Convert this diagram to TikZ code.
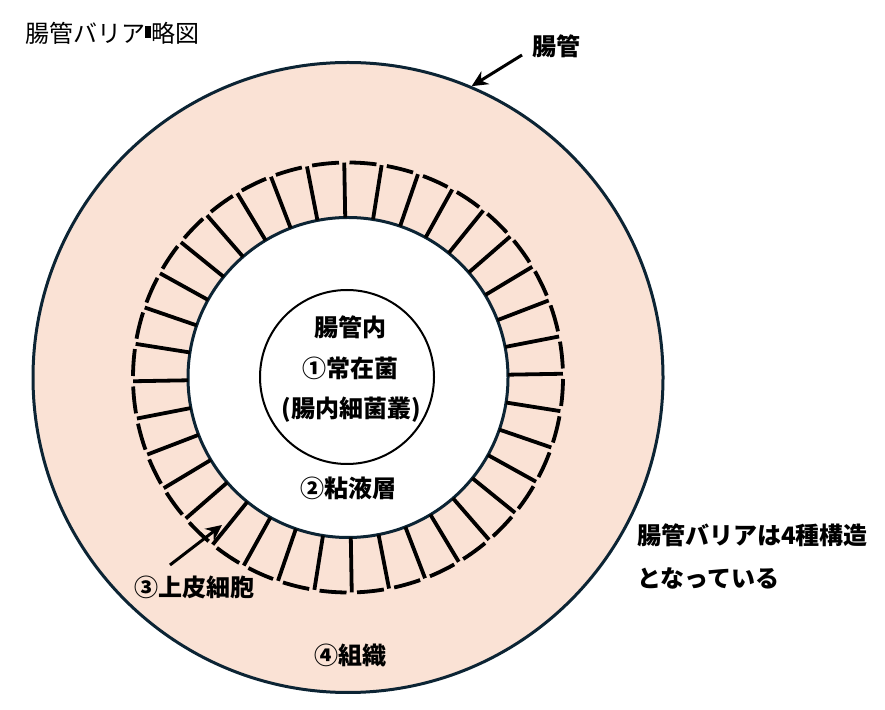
\documentclass[tikz,border=0pt]{standalone}
\usepackage{fontspec}
\setmainfont{Noto Sans CJK JP}
\usepackage{tikz}
\usetikzlibrary{arrows.meta}
\definecolor{gutpeach}{RGB}{250,226,213}
\definecolor{gutnavy}{RGB}{12,36,52}
\tikzset{
  font={\fontsize{24pt}{28pt}\selectfont}}

\begin{document}
\begin{tikzpicture}[x=1pt,y=1pt]
\tikzstyle{every node}+=[inner sep=0pt]
\tikzstyle{ring}=[circle, draw=gutnavy, line width=3pt]
\tikzstyle{lbl}=[font=\fontsize{24pt}{28pt}\selectfont\bfseries]
\tikzstyle{pointer}=[-{Stealth[length=16pt,width=15pt]}, line width=3pt, black]
\useasboundingbox (0,0) rectangle (885,709);
\coordinate (c) at (348,331.5);
\node [ring, fill=gutpeach, minimum size=630] (gut) at (c) {};
\node [ring, fill=white, minimum size=320] (lumen) at (c) {};
\begin{scope}[shift={(c)}, line width=3.8pt]
\draw [black] (91:160) -- (91:215);
\draw [black] (101:160) -- (101:215);
\draw [black] (111:160) -- (111:215);
\draw [black] (121:160) -- (121:215);
\draw [black] (131:160) -- (131:215);
\draw [black] (141:160) -- (141:215);
\draw [black] (151:160) -- (151:215);
\draw [black] (161:160) -- (161:215);
\draw [black] (171:160) -- (171:215);
\draw [black] (181:160) -- (181:215);
\draw [black] (191:160) -- (191:215);
\draw [black] (201:160) -- (201:215);
\draw [black] (211:160) -- (211:215);
\draw [black] (221:160) -- (221:215);
\draw [black] (231:160) -- (231:215);
\draw [black] (241:160) -- (241:215);
\draw [black] (251:160) -- (251:215);
\draw [black] (261:160) -- (261:215);
\draw [black] (271:160) -- (271:215);
\draw [black] (281:160) -- (281:215);
\draw [black] (291:160) -- (291:215);
\draw [black] (301:160) -- (301:215);
\draw [black] (311:160) -- (311:215);
\draw [black] (321:160) -- (321:215);
\draw [black] (331:160) -- (331:215);
\draw [black] (341:160) -- (341:215);
\draw [black] (351:160) -- (351:215);
\draw [black] (1:160) -- (1:215);
\draw [black] (11:160) -- (11:215);
\draw [black] (21:160) -- (21:215);
\draw [black] (31:160) -- (31:215);
\draw [black] (41:160) -- (41:215);
\draw [black] (51:160) -- (51:215);
\draw [black] (61:160) -- (61:215);
\draw [black] (71:160) -- (71:215);
\draw [black] (81:160) -- (81:215);
\draw [black] (82.4:215) arc (82.4:89.6:215);
\draw [black] (92.4:215) arc (92.4:99.6:215);
\draw [black] (102.4:215) arc (102.4:109.6:215);
\draw [black] (112.4:215) arc (112.4:119.6:215);
\draw [black] (122.4:215) arc (122.4:129.6:215);
\draw [black] (132.4:215) arc (132.4:139.6:215);
\draw [black] (142.4:215) arc (142.4:149.6:215);
\draw [black] (152.4:215) arc (152.4:159.6:215);
\draw [black] (162.4:215) arc (162.4:169.6:215);
\draw [black] (172.4:215) arc (172.4:179.6:215);
\draw [black] (182.4:215) arc (182.4:189.6:215);
\draw [black] (192.4:215) arc (192.4:199.6:215);
\draw [black] (202.4:215) arc (202.4:209.6:215);
\draw [black] (212.4:215) arc (212.4:219.6:215);
\draw [black] (222.4:215) arc (222.4:229.6:215);
\draw [black] (232.4:215) arc (232.4:239.6:215);
\draw [black] (242.4:215) arc (242.4:249.6:215);
\draw [black] (252.4:215) arc (252.4:259.6:215);
\draw [black] (262.4:215) arc (262.4:269.6:215);
\draw [black] (272.4:215) arc (272.4:279.6:215);
\draw [black] (282.4:215) arc (282.4:289.6:215);
\draw [black] (292.4:215) arc (292.4:299.6:215);
\draw [black] (302.4:215) arc (302.4:309.6:215);
\draw [black] (312.4:215) arc (312.4:319.6:215);
\draw [black] (322.4:215) arc (322.4:329.6:215);
\draw [black] (332.4:215) arc (332.4:339.6:215);
\draw [black] (342.4:215) arc (342.4:349.6:215);
\draw [black] (352.4:215) arc (352.4:359.6:215);
\draw [black] (2.4:215) arc (2.4:9.6:215);
\draw [black] (12.4:215) arc (12.4:19.6:215);
\draw [black] (22.4:215) arc (22.4:29.6:215);
\draw [black] (32.4:215) arc (32.4:39.6:215);
\draw [black] (42.4:215) arc (42.4:49.6:215);
\draw [black] (52.4:215) arc (52.4:59.6:215);
\draw [black] (62.4:215) arc (62.4:69.6:215);
\draw [black] (72.4:215) arc (72.4:79.6:215);
\end{scope}
\node [circle, draw=black, line width=2pt, fill=white, minimum size=174] (flora) at (347,332) {};
\node (title) [anchor=west] at (25,676) {腸管バリア\rule[4pt]{6pt}{12pt}略図};
\node [lbl] (gutlbl) at (556,663) {腸管};
\node [lbl] (inside) at (350,382) {腸管内};
\node [lbl] (resident) at (350,341) {①常在菌};
\node [lbl] (microbiota) at (351,299) {(腸内細菌叢)};
\node [lbl] (mucus) at (348,221) {②粘液層};
\node [lbl] (epithelium) at (194,122) {③上皮細胞};
\node [lbl] (tissue) at (350,54) {④組織};
\node [lbl, anchor=west] (summary1) at (637,174) {腸管バリアは4種構造};
\node [lbl, anchor=west] (summary2) at (637,131) {となっている};
\coordinate (gutarrow) at (522,654);
\draw [pointer] (gutarrow) -- (gut.67.5);
\coordinate (epitail) at (170,144);
\coordinate (epitip) at (222,184);
\draw [pointer] (epitail) -- (epitip);
\end{tikzpicture}
\end{document}
